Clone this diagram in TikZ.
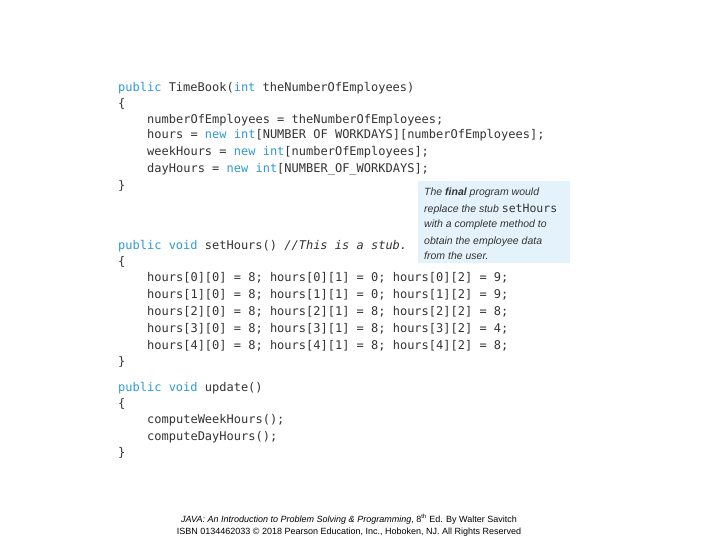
\documentclass[tikz,border=0pt]{standalone}
\usepackage{fontspec}
\setmainfont{Liberation Sans}
\setmonofont{DejaVu Sans Mono}
\definecolor{kw}{HTML}{2E9AD0}
\definecolor{cd}{HTML}{333333}
\definecolor{nb}{HTML}{E4F3FB}
\newcommand\kwd[1]{\textcolor{kw}{#1}}
\begin{document}
\begin{tikzpicture}[x=1pt,y=-1pt,
  code/.style={anchor=base west,inner sep=0pt,font=\ttfamily\fontsize{12}{12}\selectfont,text=cd},
  note/.style={anchor=base west,inner sep=0pt,font=\itshape\fontsize{10.5}{10.5}\selectfont,text=cd},
  foot/.style={anchor=base,inner sep=0pt,font=\fontsize{9}{9}\selectfont,text=black}]
\useasboundingbox (0,0) rectangle (720,540);
\node[code] (l1) at (118,92) {\kwd{public} TimeBook(\kwd{int} theNumberOfEmployees)};
\node[code] (l2) at (118,108) {\{};
\node[code] (l3) at (147,124) {numberOfEmployees = theNumberOfEmployees;};
\node[code] (l4) at (147,139) {hours = \kwd{new} \kwd{int}[NUMBER OF WORKDAYS][numberOfEmployees];};
\node[code] (l5) at (147,156) {weekHours = \kwd{new} \kwd{int}[numberOfEmployees];};
\node[code] (l6) at (147,173) {dayHours = \kwd{new} \kwd{int}[NUMBER\_OF\_WORKDAYS];};
\node[code] (l7) at (118,190) {\}};
\fill[nb] (418,181) rectangle (570,263);
\node[note] (n1) at (424,196) {The \textbf{final} program would};
\node[note] (n2) at (424,212) {replace the stub \textup{\ttfamily\fontsize{11.5}{11.5}\selectfont setHours}};
\node[note] (n3) at (424,228) {with a complete method to};
\node[note] (n4) at (424,244) {obtain the employee data};
\node[note] (n5) at (424,259) {from the user.};
\node[code] (s1) at (118,249) {\kwd{public} \kwd{void} setHours() \textit{//This is a stub.}};
\node[code] (s2) at (118,265) {\{};
\node[code] (h0) at (147,281) {hours[0][0] = 8; hours[0][1] = 0; hours[0][2] = 9;};
\node[code] (h1) at (147,298) {hours[1][0] = 8; hours[1][1] = 0; hours[1][2] = 9;};
\node[code] (h2) at (147,315) {hours[2][0] = 8; hours[2][1] = 8; hours[2][2] = 8;};
\node[code] (h3) at (147,332) {hours[3][0] = 8; hours[3][1] = 8; hours[3][2] = 4;};
\node[code] (h4) at (147,349) {hours[4][0] = 8; hours[4][1] = 8; hours[4][2] = 8;};
\node[code] (s3) at (118,365) {\}};
\node[code] (u1) at (118,391) {\kwd{public} \kwd{void} update()};
\node[code] (u2) at (118,407) {\{};
\node[code] (u3) at (147,423) {computeWeekHours();};
\node[code] (u4) at (147,440) {computeDayHours();};
\node[code] (u5) at (118,456) {\}};
\node[foot] (f1) at (349,522) {\textit{JAVA: An Introduction to Problem Solving \& Programming}, 8\textsuperscript{th} Ed. By Walter Savitch};
\node[foot] (f2) at (349,534) {ISBN 0134462033 © 2018 Pearson Education, Inc., Hoboken, NJ. All Rights Reserved};
\end{tikzpicture}
\end{document}
